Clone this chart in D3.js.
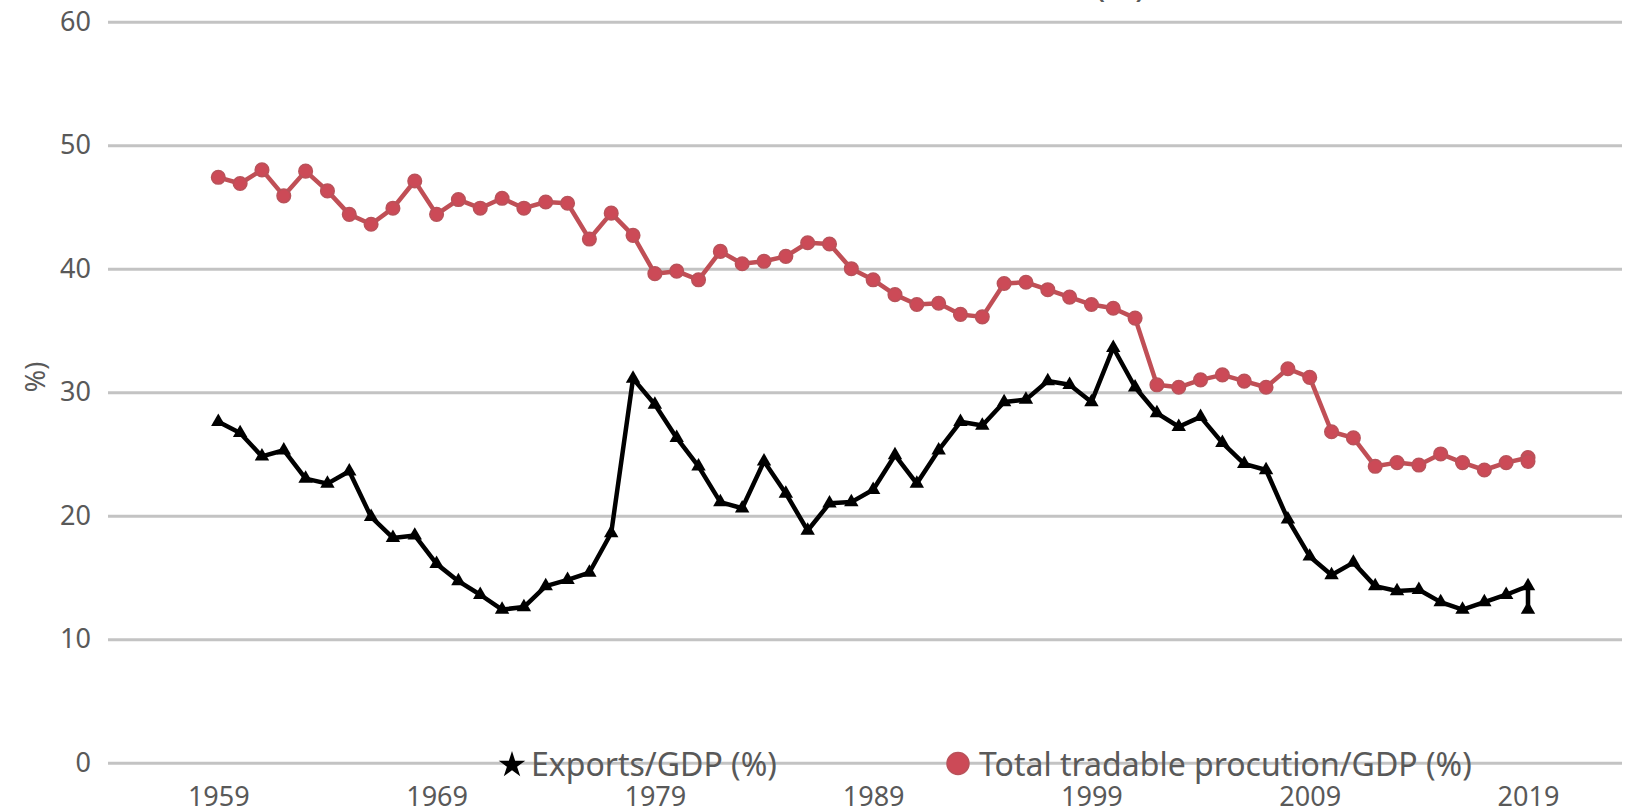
<!DOCTYPE html>
<html>
<head>
<meta charset="utf-8">
<script src="https://cdn.jsdelivr.net/npm/d3@7"></script>
<style>
  html, body { margin: 0; padding: 0; background: #fff; }
  svg { display: block; font-family: "Noto Sans", "Open Sans", sans-serif; }
</style>
</head>
<body>
<svg id="chart" width="1643" height="812"></svg>
<script>
// Years on the category axis
const years = [
  1959, 1960, 1961, 1962, 1963, 1964, 1965, 1966, 1967, 1968,
  1969, 1970, 1971, 1972, 1973, 1974, 1975, 1976, 1977, 1978,
  1979, 1980, 1981, 1982, 1983, 1984, 1985, 1986, 1987, 1988,
  1989, 1990, 1991, 1992, 1993, 1994, 1995, 1996, 1997, 1998,
  1999, 2000, 2001, 2002, 2003, 2004, 2005, 2006, 2007, 2008,
  2009, 2010, 2011, 2012, 2013, 2014, 2015, 2016, 2017, 2018,
  2019, 2019
];

// Exports as a share of GDP (%), last year carries a revised second figure
const exportsGdp = [
  27.6, 26.7, 24.8, 25.3, 23.0, 22.6, 23.6, 19.9, 18.2, 18.4,
  16.1, 14.7, 13.6, 12.4, 12.6, 14.3, 14.8, 15.4, 18.6, 31.1,
  29.0, 26.3, 24.0, 21.1, 20.6, 24.4, 21.8, 18.8, 21.0, 21.1,
  22.1, 24.9, 22.6, 25.3, 27.6, 27.3, 29.2, 29.4, 30.9, 30.6,
  29.2, 33.6, 30.4, 28.3, 27.2, 28.0, 25.9, 24.2, 23.7, 19.7,
  16.7, 15.2, 16.2, 14.3, 13.9, 14.0, 13.0, 12.4, 13.0, 13.6,
  14.3, 12.4
];

// Total tradable production as a share of GDP (%)
const tradableGdp = [
  47.4, 46.9, 48.0, 45.9, 47.9, 46.3, 44.4, 43.6, 44.9, 47.1,
  44.4, 45.6, 44.9, 45.7, 44.9, 45.4, 45.3, 42.4, 44.5, 42.7,
  39.6, 39.8, 39.1, 41.4, 40.4, 40.6, 41.0, 42.1, 42.0, 40.0,
  39.1, 37.9, 37.1, 37.2, 36.3, 36.1, 38.8, 38.9, 38.3, 37.7,
  37.1, 36.8, 36.0, 30.6, 30.4, 31.0, 31.4, 30.9, 30.4, 31.9,
  31.2, 26.8, 26.3, 24.0, 24.3, 24.1, 25.0, 24.3, 23.7, 24.3,
  24.7, 24.4
];

const yTicks = [0, 10, 20, 30, 40, 50, 60];
const xTickYears = [1959, 1969, 1979, 1989, 1999, 2009, 2019];
const seriesNames = ["Exports/GDP (%)", "Total tradable procution/GDP (%)"];

const svg = d3.select("#chart");
svg.append("rect").attr("width", 1643).attr("height", 812).attr("fill", "#fff");

const plotLeft = 108, plotRight = 1622;
const x = d3.scaleLinear().domain([1959, 2019]).range([218.3, 1528]);
const y = d3.scaleLinear().domain([0, 60]).range([762.7, 21.7]);

const textColor = "#595959";
const gridColor = "#c3c3c3";

// title above the plot, only its lower edge falls inside the frame
svg.append("text")
  .attr("x", 1146).attr("y", -4)
  .attr("text-anchor", "end")
  .attr("font-size", 36)
  .attr("fill", textColor)
  .text("(%)");

// value axis with full-width gridlines
const yAxis = svg.append("g")
  .attr("transform", `translate(${plotLeft},0)`)
  .call(d3.axisLeft(y).tickValues(yTicks).tickSize(-(plotRight - plotLeft)).tickPadding(17));
yAxis.select(".domain").remove();
yAxis.selectAll(".tick line").attr("stroke", gridColor).attr("stroke-width", 3);
yAxis.selectAll(".tick text")
  .attr("fill", textColor).attr("font-size", 27).attr("font-family", "Noto Sans");

// year labels
const xAxis = svg.append("g")
  .attr("transform", `translate(0,${y(0)})`)
  .call(d3.axisBottom(x).tickValues(xTickYears).tickFormat(d3.format("d")).tickSize(0).tickPadding(24));
xAxis.select(".domain").remove();
xAxis.selectAll(".tick text")
  .attr("fill", textColor).attr("font-size", 27).attr("font-family", "Noto Sans");

// partial axis title on the left
svg.append("text")
  .attr("transform", "translate(45,377) rotate(-90)")
  .attr("text-anchor", "middle")
  .attr("fill", textColor)
  .attr("font-size", 27)
  .text("%)");

const exportsPts = years.map((yr, i) => ({ yr, v: exportsGdp[i] }));
const tradablePts = years.map((yr, i) => ({ yr, v: tradableGdp[i] }));

const line = d3.line().x(d => x(d.yr)).y(d => y(d.v));

// exports series: black line with triangle markers
svg.append("path").datum(exportsPts)
  .attr("d", line).attr("fill", "none")
  .attr("stroke", "#000").attr("stroke-width", 4.5).attr("stroke-linejoin", "round");
svg.append("g").selectAll("path").data(exportsPts).join("path")
  .attr("transform", d => `translate(${x(d.yr)},${y(d.v)})`)
  .attr("d", d3.symbol(d3.symbolTriangle, 90))
  .attr("fill", "#000");

// tradable production series: red line with circle markers
const red = "#c04f56";
svg.append("path").datum(tradablePts)
  .attr("d", line).attr("fill", "none")
  .attr("stroke", red).attr("stroke-width", 4.5).attr("stroke-linejoin", "round");
svg.append("g").selectAll("circle").data(tradablePts).join("circle")
  .attr("cx", d => x(d.yr)).attr("cy", d => y(d.v)).attr("r", 6.8)
  .attr("fill", "#cc4a57").attr("stroke", "#b9525a").attr("stroke-width", 1.5);

// legend, sitting on the zero line
const legend = svg.append("g").attr("font-size", 32).attr("fill", textColor);
legend.append("path")
  .attr("transform", "translate(512,765)")
  .attr("d", d3.symbol(d3.symbolStar, 220))
  .attr("fill", "#000");
legend.append("text").attr("x", 531).attr("y", 776).text(seriesNames[0]);
legend.append("circle")
  .attr("cx", 958).attr("cy", 763.5).attr("r", 11)
  .attr("fill", "#cc4a57").attr("stroke", "#b9525a").attr("stroke-width", 1.5);
legend.append("text").attr("x", 979).attr("y", 776).text(seriesNames[1]);
</script>
</body>
</html>
